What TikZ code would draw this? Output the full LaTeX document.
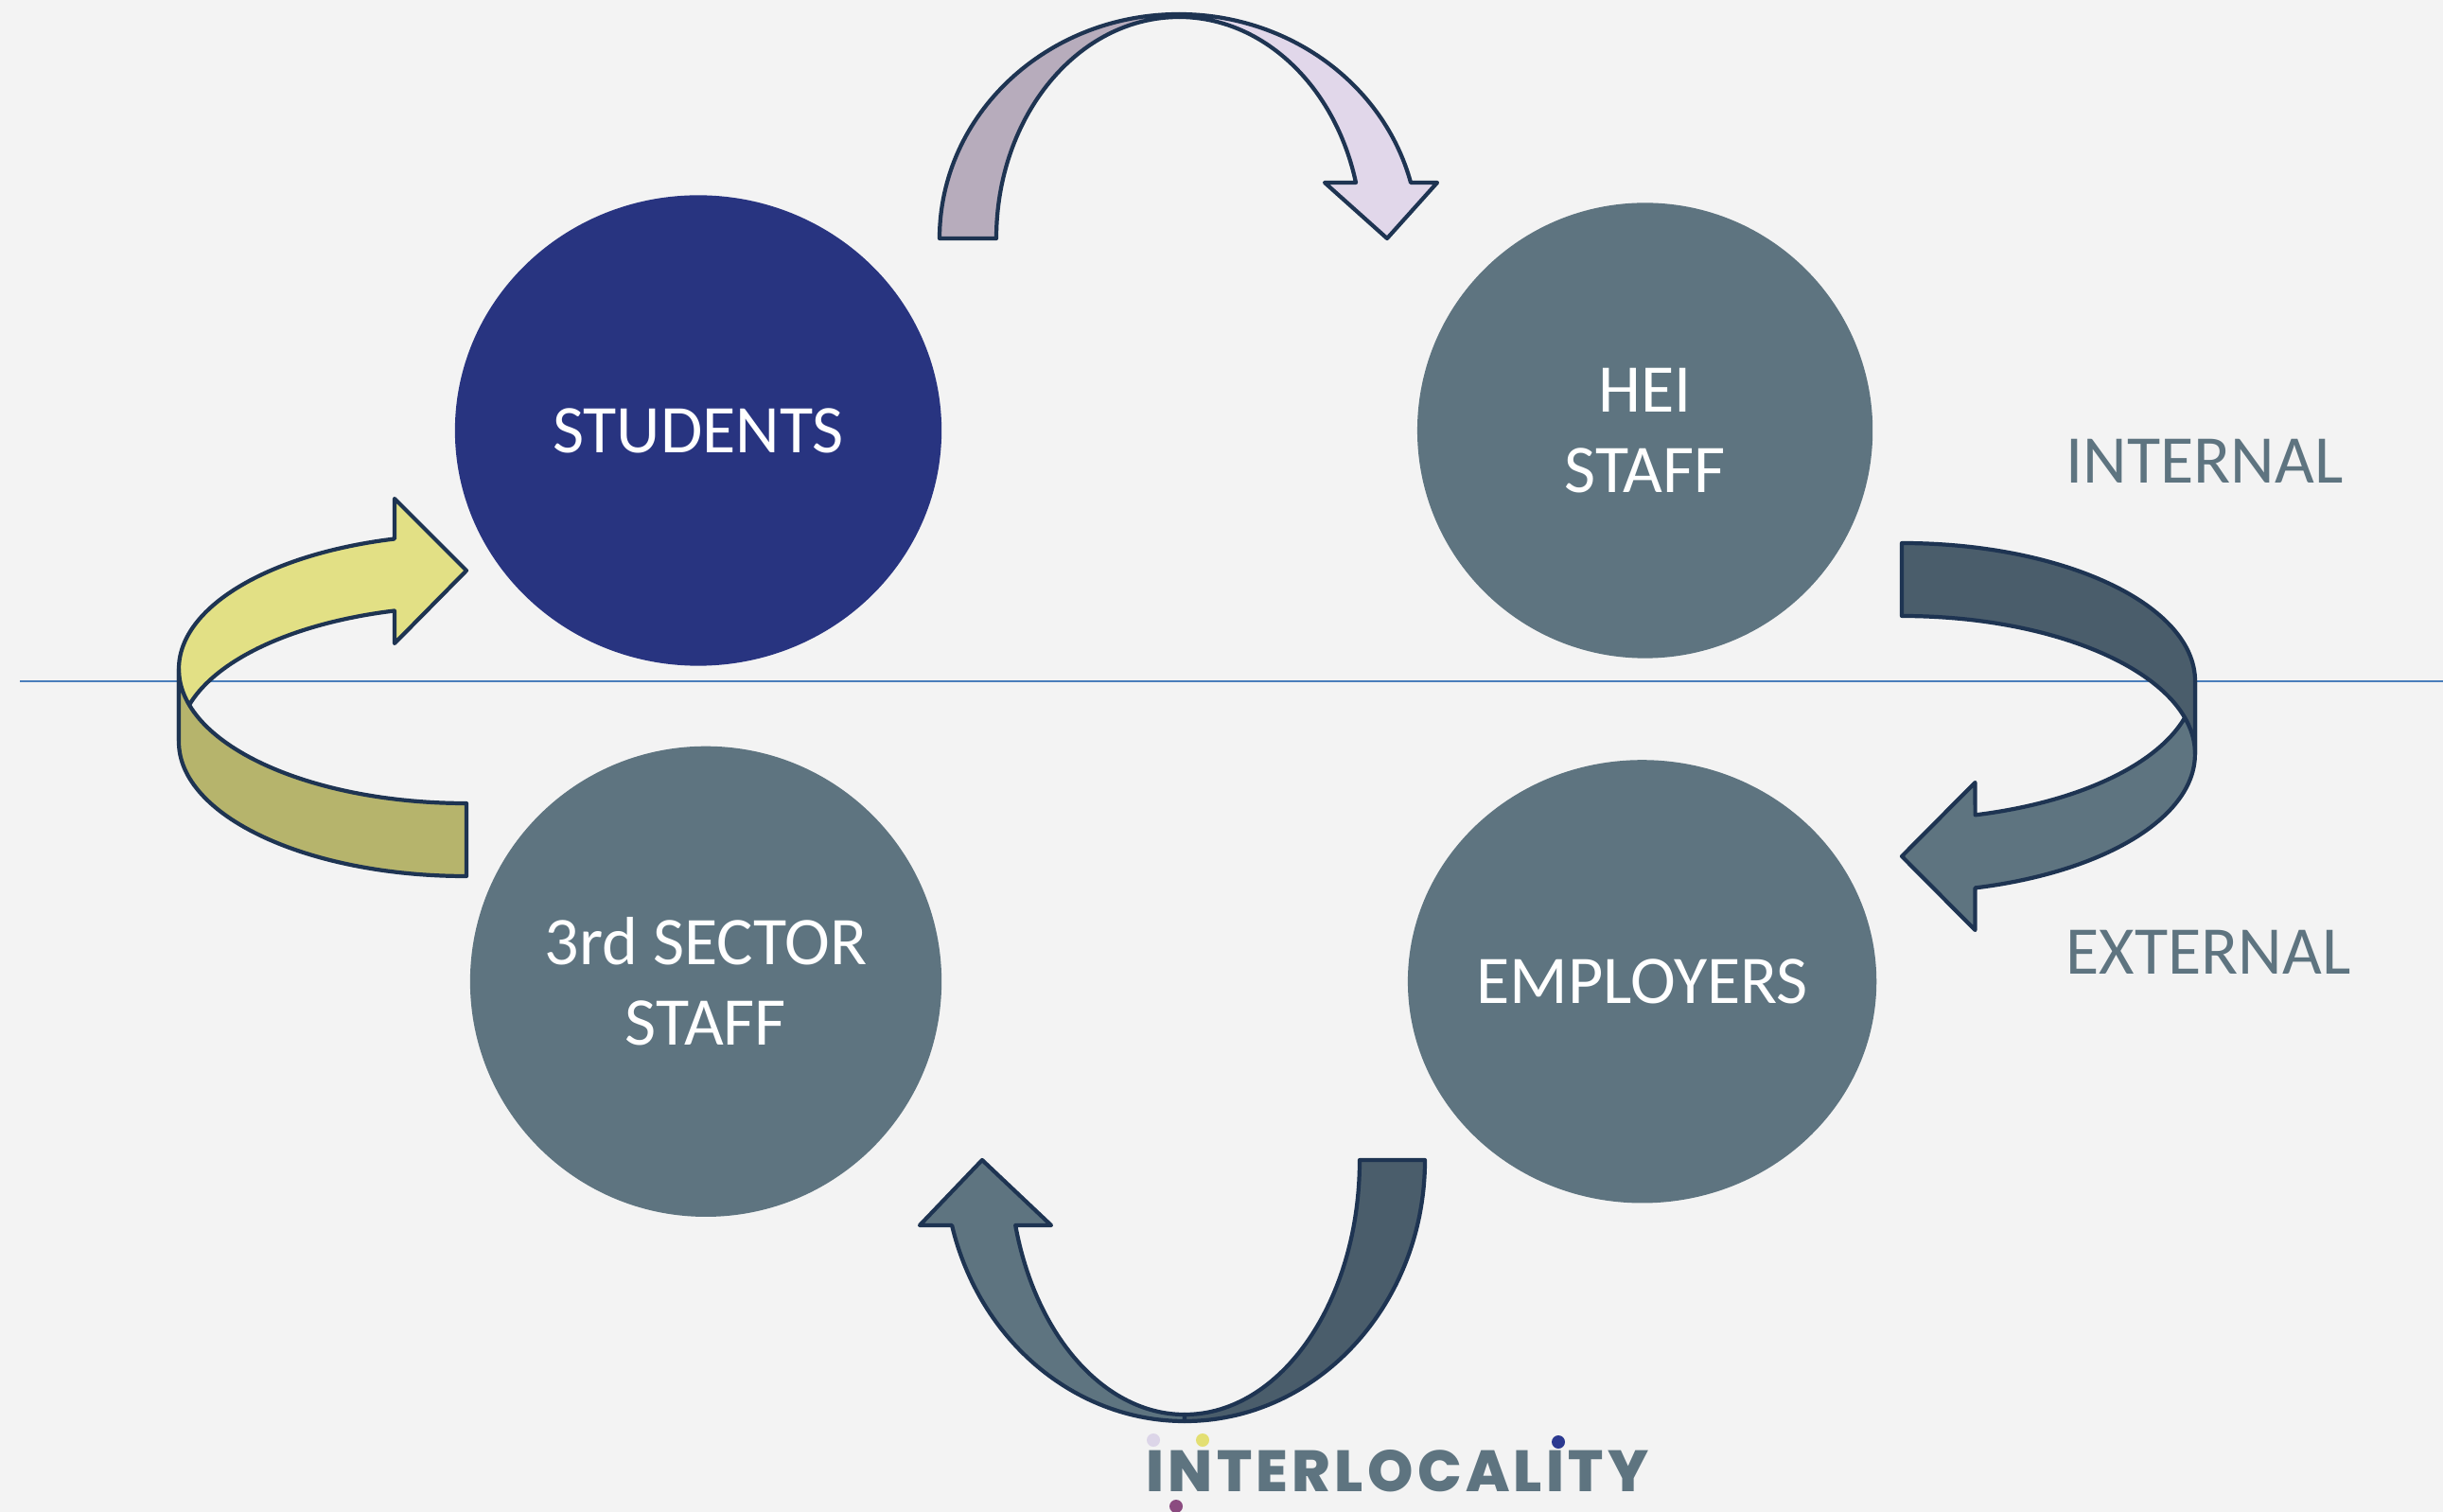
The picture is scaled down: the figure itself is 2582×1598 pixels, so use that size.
\documentclass[tikz,border=0pt]{standalone}
\usepackage{fontspec}
\setmainfont{Carlito}
\newfontfamily\logofont{Poppins ExtraBold}[LetterSpace=7]
\usepackage{xcolor}
\usepackage{tikz}
\usetikzlibrary{shapes.geometric, positioning}
\definecolor{bg}{HTML}{F3F3F3}
\definecolor{navy}{HTML}{283480}
\definecolor{slate}{HTML}{5E7480}
\definecolor{darkslate}{HTML}{4A5D6B}
\definecolor{edge}{HTML}{1E3452}
\definecolor{mauve}{HTML}{B7ACBC}
\definecolor{lilac}{HTML}{E1D7EA}
\definecolor{lemon}{HTML}{E2E085}
\definecolor{olivedark}{HTML}{B6B46C}
\definecolor{divide}{HTML}{4A7EBB}
\definecolor{dotlav}{HTML}{DCD5E8}
\definecolor{dotyel}{HTML}{E3DF73}
\definecolor{dotpur}{HTML}{8B4B80}
\definecolor{dotblu}{HTML}{2B3990}
\tikzstyle{actor} = [ellipse, inner sep=0pt, text=white, align=center, font=\fontsize{20.5}{24.2}\selectfont]
\tikzstyle{side} = [text=slate, font=\fontsize{20.5}{24.2}\selectfont]
\tikzstyle{band} = [draw=edge, line width=1.2pt, line join=round]

\begin{document}
\begin{tikzpicture}[x=0.01cm, y=0.01cm, node distance=10cm]
    \fill[bg] (0,0) rectangle (2582,-1598);
    \useasboundingbox (0,0) rectangle (2582,-1598);
    \draw[divide, line width=0.45pt] (21,-720) -- (2582,-720);
    \node (stud) [actor, fill=navy, minimum width=5.14cm, minimum height=4.97cm] at (738,-455) {STUDENTS};
    \node (hei) [actor, fill=slate, minimum width=4.81cm, minimum height=4.81cm, right of=stud] {HEI\\STAFF};
    \node (third) [actor, fill=slate, minimum width=4.98cm, minimum height=4.97cm, below of=stud, xshift=0.08cm, yshift=4.18cm] {3rd SECTOR\\STAFF};
    \node (emp) [actor, fill=slate, minimum width=4.79cm, minimum height=4.68cm, right of=third, xshift=-0.11cm] {EMPLOYERS};
    \node (inner) [side] at (2330,-487) {INTERNAL};
    \node (outer) [side] at (2334,-1006) {EXTERNAL};
    % top arrow, students to hei staff
    \draw[band, fill=lilac] (1246,-15) arc[start angle=90, end angle=14.4, x radius=253, y radius=237] -- (1519,-193) -- (1466,-252) -- (1400,-193) -- (1433,-193) arc[start angle=14.6, end angle=90, x radius=193, y radius=234] -- cycle;
    \draw[band, fill=mauve] (993,-252) arc[start angle=180, end angle=90, x radius=253, y radius=237] -- (1246,-18) arc[start angle=90, end angle=180, x radius=193, y radius=234] -- cycle;
    % right arrow, hei staff to employers
    \draw[band, fill=slate] (2320,-720) arc[start angle=0, end angle=-75.5, x radius=310, y radius=146] -- (2087.5,-827) -- (2010,-905) -- (2087.5,-983) -- (2087.5,-938.4) arc[start angle=-75.5, end angle=0, x radius=310, y radius=146] -- cycle;
    \draw[band, fill=darkslate] (2010,-574) arc[start angle=90, end angle=0, x radius=310, y radius=146] -- (2320,-797) arc[start angle=0, end angle=90, x radius=310, y radius=146] -- cycle;
    % bottom arrow, employers to 3rd sector
    \draw[band, fill=slate] (1252,-1502) arc[start angle=270, end angle=194.5, x radius=254, y radius=276] -- (972,-1295) -- (1038,-1226) -- (1111,-1295) -- (1073.2,-1295) arc[start angle=194.86, end angle=270, x radius=185, y radius=269] -- cycle;
    \draw[band, fill=darkslate] (1506,-1226) arc[start angle=0, end angle=-90, x radius=254, y radius=276] -- (1252,-1495) arc[start angle=-90, end angle=0, x radius=185, y radius=269] -- cycle;
    % left arrow, 3rd sector to students
    \draw[band, fill=lemon] (189,-707) arc[start angle=180, end angle=104.5, x radius=304, y radius=142] -- (417,-527) -- (493,-603) -- (417,-680) -- (416.9,-645.5) arc[start angle=104.5, end angle=180, x radius=304, y radius=142] -- cycle;
    \draw[band, fill=olivedark] (189,-707) arc[start angle=180, end angle=270, x radius=304, y radius=142] -- (493,-926) arc[start angle=270, end angle=180, x radius=304, y radius=142] -- cycle;
    % logo
    \node (logo) [anchor=base, inner sep=0pt, text=slate, font=\logofont\fontsize{17.5}{20}\selectfont] at (1477,-1576) {INTERLOCALITY};
    \fill[dotlav] (1219,-1522) circle[radius=7];
    \fill[dotyel] (1271,-1522) circle[radius=7];
    \fill[dotpur] (1243,-1592) circle[radius=7];
    \fill[dotblu] (1647,-1524) circle[radius=7];
\end{tikzpicture}
\end{document}
